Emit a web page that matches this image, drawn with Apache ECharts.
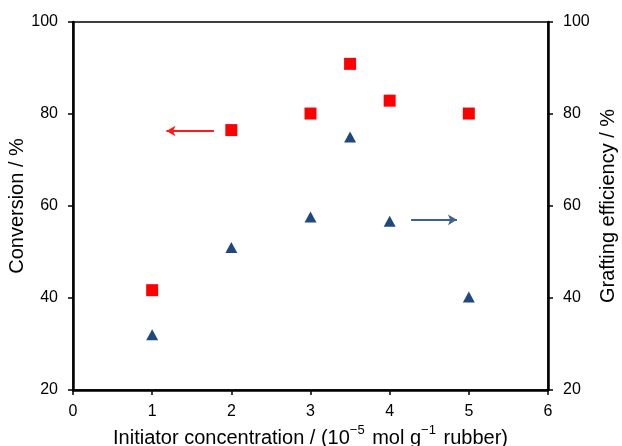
<!DOCTYPE html>
<html><head><meta charset="utf-8">
<script src="https://cdn.jsdelivr.net/npm/echarts@6/dist/echarts.min.js"></script>
<style>html,body{margin:0;padding:0;background:#fff}#c{width:622px;height:446px}</style>
</head><body><div id="c"></div>
<script>
const concentration = [1, 2, 3, 3.5, 4, 5];
const conversion = [41.7, 76.5, 80.1, 90.9, 82.9, 80.1];
const grafting = [32.0, 51.0, 57.6, 75.0, 56.7, 40.2];
const xTicks = [0, 1, 2, 3, 4, 5, 6];
const yTicks = [20, 40, 60, 80, 100];
const redArrow = [[1.78, 76.3], [1.18, 76.3]];
const blueArrow = [[4.27, 57.0], [4.85, 57.0]];

const font = 'Liberation Sans, Arial, sans-serif';
const chart = echarts.init(document.getElementById('c'), null, {renderer: 'canvas'});
const axisCommon = {
  min: yTicks[0], max: yTicks[yTicks.length - 1], interval: 20,
  axisLine: {show: true, lineStyle: {color: '#000', width: 2.5}},
  axisTick: {show: true, inside: false, length: 5, lineStyle: {color: '#000', width: 1.5}},
  splitLine: {show: false},
  axisLabel: {color: '#000', fontSize: 16, fontFamily: font, margin: 15},
  nameLocation: 'middle',
  nameMoveOverlap: false,
  nameTextStyle: {color: '#000', fontSize: 20, fontFamily: font}
};
chart.setOption({
  animation: false,
  grid: {left: 73, right: 74, top: 22, bottom: 56, containLabel: false, outerBoundsMode: 'none',
    show: true, borderColor: '#000', borderWidth: 1.5},
  xAxis: {
    type: 'value', min: xTicks[0], max: xTicks[xTicks.length - 1], interval: 1,
    axisLine: {show: true, onZero: false, lineStyle: {color: '#000', width: 2.5}},
    axisTick: {show: true, inside: false, length: 5, lineStyle: {color: '#000', width: 1.5}},
    splitLine: {show: false},
    axisLabel: {color: '#000', fontSize: 16, fontFamily: font, margin: 14},
    name: '{n|Initiator concentration / (10}{s|−5}{n| mol g}{s|−1}{n| rubber)}',
    nameLocation: 'middle', nameGap: 34, nameMoveOverlap: false,
    nameTextStyle: {
      rich: {
        n: {color: '#000', fontSize: 20, fontFamily: font, lineHeight: 24, verticalAlign: 'bottom'},
        s: {color: '#000', fontSize: 13, fontFamily: font, lineHeight: 24, verticalAlign: 'top', padding: [0, 2, 0, 0]}
      }
    }
  },
  yAxis: [
    Object.assign({}, axisCommon, {type: 'value', position: 'left', name: 'Conversion / %', nameGap: 46}),
    Object.assign({}, axisCommon, {type: 'value', position: 'right', name: 'Grafting efficiency / %', nameGap: 50,
      nameRotate: 90})
  ],
  series: [
    {
      type: 'scatter', yAxisIndex: 0, symbol: 'rect', symbolSize: 12,
      itemStyle: {color: '#ff0000', opacity: 1},
      data: concentration.map((x, i) => [x, conversion[i]]),
      markLine: {
        silent: true, symbol: ['none', 'arrow'], symbolSize: [8, 9],
        label: {show: false},
        lineStyle: {color: '#ff1a1a', width: 2, type: 'solid', opacity: 1},
        data: [[{coord: redArrow[0]}, {coord: redArrow[1]}]]
      }
    },
    {
      type: 'scatter', yAxisIndex: 1, symbol: 'triangle', symbolSize: [12, 11],
      itemStyle: {color: '#1f497d', opacity: 1},
      data: concentration.map((x, i) => [x, grafting[i]]),
      markLine: {
        silent: true, symbol: ['none', 'arrow'], symbolSize: [8, 9],
        label: {show: false},
        lineStyle: {color: '#3c6296', width: 2, type: 'solid', opacity: 1},
        data: [[{coord: blueArrow[0]}, {coord: blueArrow[1]}]]
      }
    }
  ]
});
</script></body></html>
